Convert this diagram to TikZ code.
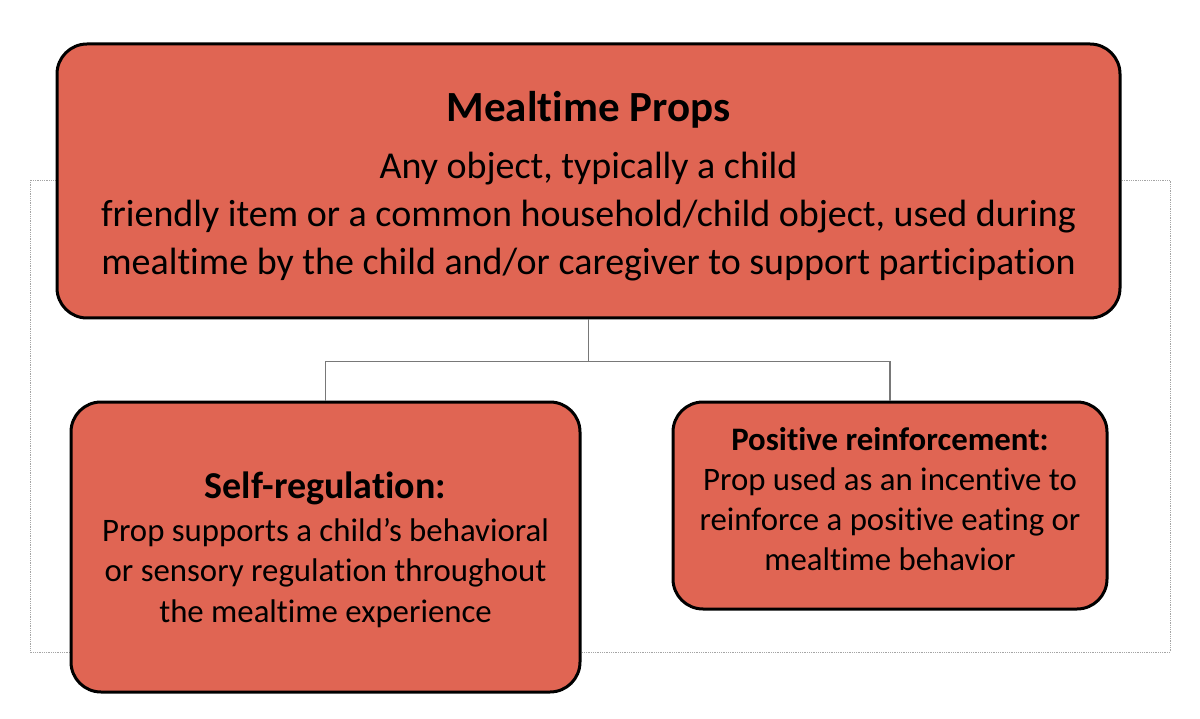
\documentclass[tikz,border=0pt]{standalone}
\usepackage{fontspec}
\setmainfont{Carlito}[Ligatures=NoCommon]
\usepackage{tikz}
\usetikzlibrary{positioning}

\definecolor{propred}{RGB}{224,101,83}
\definecolor{linkgray}{RGB}{120,120,120}
\definecolor{framegray}{RGB}{165,165,165}

\begin{document}
\begin{tikzpicture}
  [
    x=1pt, y=-1pt,
    propbox/.style={draw=black, line width=3pt, fill=propred, rounded corners=30pt,
      inner sep=0pt},
    proptext/.style={align=center, inner sep=0pt},
    link/.style={draw=linkgray, line width=1.3pt},
    frame/.style={draw=framegray, line width=0.8pt, densely dotted}
  ]
  \useasboundingbox (0,0) rectangle (1200,719);
  % outer dotted frame
  \draw[frame] (30,180) rectangle (1170,652);

  % boxes
  \node[propbox, minimum width=1063pt, minimum height=274pt] (props) at (588.5,181) {};
  \node[propbox, minimum width=509pt, minimum height=290pt] (selfreg) at (325.5,547) {};
  \node[propbox, minimum width=434pt, minimum height=207pt] (reinf) at (890,505.5) {};

  % texts
  \node[proptext, font=\fontsize{38}{48}\selectfont] (propstext)
    at ([yshift=-5pt]props.center)
    {{\fontsize{43}{52}\selectfont\bfseries Mealtime Props}\\[9pt]
     Any object, typically a child\\
     friendly item or a common household/child object, used during\\
     mealtime by the child and/or caregiver to support participation};

  \node[proptext, font=\fontsize{32.8}{40.5}\selectfont] (selfregtext)
    at ([yshift=-3pt]selfreg.center)
    {{\fontsize{38}{46}\selectfont\bfseries Self-regulation:}\\[2pt]
     Prop supports a child’s behavioral\\
     or sensory regulation throughout\\
     the mealtime experience};

  \node[proptext, font=\fontsize{32.8}{40}\selectfont] (reinftext)
    at ([yshift=6pt]reinf.center)
    {\textbf{Positive reinforcement:}\\
     Prop used as an incentive to\\
     reinforce a positive eating or\\
     mealtime behavior};

  % tree connectors
  \draw[link] (props.south) -- ++(0,42) coordinate (fork);
  \draw[link] (fork) -| (selfreg.north);
  \draw[link] (fork) -| (reinf.north);
\end{tikzpicture}
\end{document}
